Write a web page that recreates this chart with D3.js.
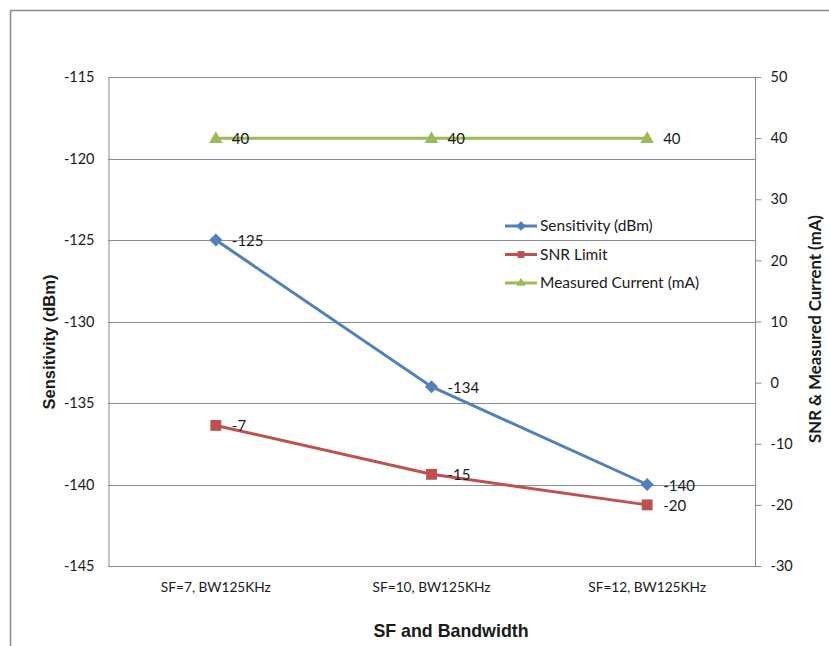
<!DOCTYPE html>
<html>
<head>
<meta charset="utf-8">
<script src="https://cdn.jsdelivr.net/npm/d3@7/dist/d3.min.js"></script>
<style>
  html, body { margin: 0; padding: 0; background: #fff; }
  svg { display: block; }
  text { font-family: Lato, "Open Sans", sans-serif; fill: #1a1a1a; }
</style>
</head>
<body>
<svg id="chart" width="829" height="646"></svg>
<script>
// Chart data
const categories = ["SF=7, BW125KHz", "SF=10, BW125KHz", "SF=12, BW125KHz"];
const sensitivity = [-125, -134, -140];
const snrLimit = [-7, -15, -20];
const measuredCurrent = [40, 40, 40];
const leftTicks = [-115, -120, -125, -130, -135, -140, -145];
const rightTicks = [50, 40, 30, 20, 10, 0, -10, -20, -30];

const svg = d3.select("#chart");
const plot = { left: 108, right: 755, top: 77, bottom: 566 };
const fmt = d => String(d); // plain hyphen-minus for negatives

// Outer chart frame
svg.append("rect")
  .attr("x", 10.5).attr("y", 10.5)
  .attr("width", 830).attr("height", 650)
  .attr("fill", "none").attr("stroke", "#8c8c8c").attr("stroke-width", 1.5);

const x = d3.scaleBand().domain(categories).range([plot.left, plot.right]);
const yL = d3.scaleLinear().domain([-145, -115]).range([plot.bottom, plot.top]);
const yR = d3.scaleLinear().domain([-30, 50]).range([plot.bottom, plot.top]);
const cx = d => x(d) + x.bandwidth() / 2;

// Horizontal gridlines
svg.append("g").selectAll("line").data(leftTicks).join("line")
  .attr("x1", plot.left).attr("x2", plot.right)
  .attr("y1", d => Math.round(yL(d)) + 0.5).attr("y2", d => Math.round(yL(d)) + 0.5)
  .attr("stroke", "#8c8c8c").attr("stroke-width", 1);

// Left axis
const gL = svg.append("g").attr("transform", `translate(${plot.left + 0.5},0)`)
  .call(d3.axisLeft(yL).tickValues(leftTicks).tickFormat(fmt).tickSize(0).tickPadding(14));
gL.select(".domain").attr("stroke", "#8c8c8c");
gL.selectAll("text").attr("font-size", 14.5).attr("fill", "#1a1a1a")
  .style("font-family", "Lato, 'Open Sans', sans-serif");

// Right axis
const gR = svg.append("g").attr("transform", `translate(${plot.right + 0.5},0)`)
  .call(d3.axisRight(yR).tickValues(rightTicks).tickFormat(fmt).tickSize(6).tickPadding(9));
gR.select(".domain").attr("stroke", "#8c8c8c").attr("d", `M0,${plot.top}V${plot.bottom}`);
gR.selectAll("line").attr("stroke", "#8c8c8c");
gR.selectAll("text").attr("font-size", 14.5).attr("fill", "#1a1a1a")
  .style("font-family", "Lato, 'Open Sans', sans-serif");

// Bottom axis
const gB = svg.append("g").attr("transform", `translate(0,${plot.bottom + 0.5})`)
  .call(d3.axisBottom(x).tickSize(0).tickPadding(16));
gB.select(".domain").attr("stroke", "#8c8c8c").attr("d", `M${plot.left},0H${plot.right + 6}`);
gB.selectAll("text").attr("font-size", 13.7).attr("fill", "#1a1a1a")
  .style("font-family", "Lato, 'Open Sans', sans-serif");

// Axis titles
svg.append("text").attr("transform", `translate(55,342) rotate(-90)`)
  .attr("text-anchor", "middle").attr("font-size", 16.5).attr("font-weight", "bold")
  .style("font-family", "'Liberation Sans', Arial, sans-serif")
  .text("Sensitivity (dBm)");
svg.append("text").attr("transform", `translate(821,329) rotate(-90)`)
  .attr("text-anchor", "middle").attr("font-size", 16.8).attr("font-weight", "bold")
  .text("SNR & Measured Current (mA)");
svg.append("text").attr("x", 451).attr("y", 637)
  .attr("text-anchor", "middle").attr("font-size", 17.8).attr("font-weight", "bold")
  .style("font-family", "'Liberation Sans', Arial, sans-serif")
  .text("SF and Bandwidth");

const series = [
  { name: "Sensitivity (dBm)", values: sensitivity, y: yL, color: "#4F81BD", marker: "diamond" },
  { name: "SNR Limit", values: snrLimit, y: yR, color: "#C0504D", marker: "square" },
  { name: "Measured Current (mA)", values: measuredCurrent, y: yR, color: "#9BBB59", marker: "triangle" }
];

const symbolType = { diamond: d3.symbolDiamond2, square: d3.symbolSquare2, triangle: d3.symbolTriangle2 };
const symbolSize = { diamond: 110, square: 150, triangle: 130 };

series.forEach(s => {
  const pts = categories.map((c, i) => [cx(c), s.y(s.values[i]), s.values[i]]);
  svg.append("path").datum(pts)
    .attr("d", d3.line().x(d => d[0]).y(d => d[1]))
    .attr("fill", "none").attr("stroke", s.color).attr("stroke-width", 3);
  svg.append("g").selectAll("path").data(pts).join("path")
    .attr("transform", d => `translate(${d[0]},${d[1] + (s.marker === "triangle" ? 1 : 0)})`)
    .attr("d", d3.symbol().type(symbolType[s.marker]).size(symbolSize[s.marker]))
    .attr("fill", s.color);
  svg.append("g").selectAll("text").data(pts).join("text")
    .attr("x", d => d[0] + 16).attr("y", d => d[1] + 6)
    .attr("font-size", 15).text(d => fmt(d[2]));
});

// Legend
const legend = svg.append("g");
series.forEach((s, i) => {
  const ly = 226 + i * 28.5;
  legend.append("line").attr("x1", 505).attr("x2", 537).attr("y1", ly).attr("y2", ly)
    .attr("stroke", s.color).attr("stroke-width", 3);
  legend.append("path").attr("transform", `translate(521,${ly})`)
    .attr("d", d3.symbol().type(symbolType[s.marker]).size(60)).attr("fill", s.color);
  legend.append("text").attr("x", 540).attr("y", ly + 5)
    .attr("font-size", 15.5).text(s.name);
});
</script>
</body>
</html>
